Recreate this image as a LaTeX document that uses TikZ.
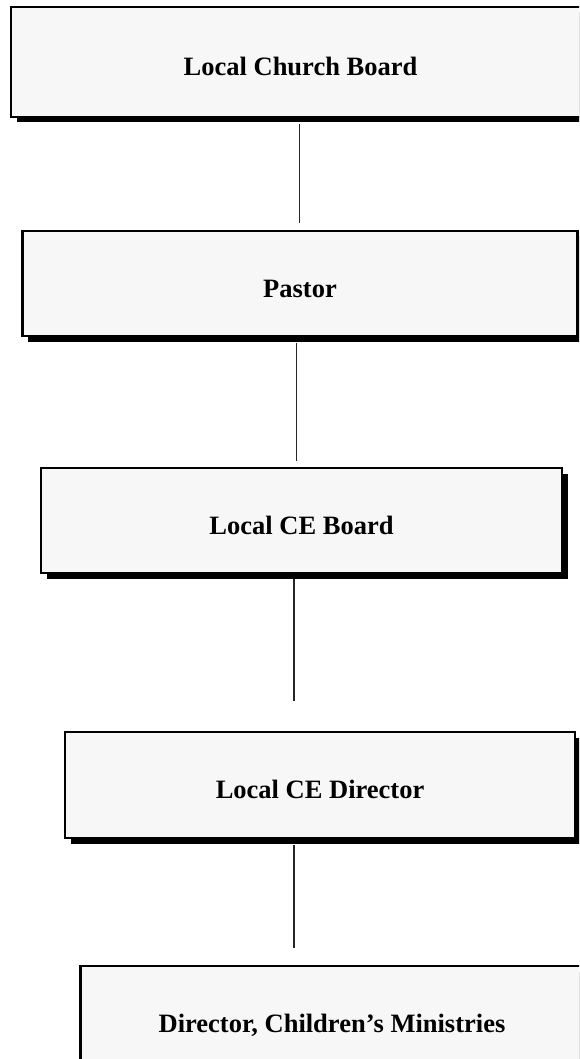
\documentclass[tikz,border=0pt]{standalone}
\usepackage{fontspec}
\setmainfont{Liberation Serif}
\usetikzlibrary{shadows}

\begin{document}
\begin{tikzpicture}[x=1pt, y=-1pt]
  \definecolor{boxgray}{HTML}{F7F7F7}
  \tikzstyle{orgbox}=[draw, line width=2.4pt, fill=boxgray, text height=27pt, text depth=0pt,
    font=\bf\fontsize{26.5}{30}\selectfont,
    drop shadow={shadow xshift=5.5pt, shadow yshift=-5.5pt, fill=black, opacity=1}]
  \tikzstyle{orgline}=[line width=1.3pt, black!85]

  \useasboundingbox (0,0) rectangle (579,1059);
  \clip (0,0) rectangle (579,1059);

  \node[orgbox, minimum width=579pt, minimum height=110pt](board) at (300.5,62) {Local Church Board};
  \node[orgbox, minimum width=555pt, minimum height=105pt](pastor) at (300,283.5) {Pastor};
  \node[orgbox, minimum width=521pt, minimum height=105pt](ceboard) at (301.5,520.5) {Local CE Board};
  \node[orgbox, minimum width=510pt, minimum height=106pt](cedirector) at (320,785) {Local CE Director};
  \node[orgbox, minimum width=503pt, minimum height=106pt](childmin) at (332,1019) {Director, Children's Ministries};

%  connectors hang a little below each box
  \draw[orgline] ([xshift=-1pt, yshift=-6pt]board.south) -- ([xshift=-0.5pt, yshift=7pt]pastor.north);
  \draw[orgline] ([xshift=-3.5pt, yshift=-6pt]pastor.south) -- ([xshift=-5pt, yshift=6pt]ceboard.north);
  \draw[orgline] ([xshift=-7.5pt, yshift=-5pt]ceboard.south) -- ([xshift=-26pt, yshift=30pt]cedirector.north);
  \draw[orgline] ([xshift=-26pt, yshift=-6pt]cedirector.south) -- ([xshift=-38pt, yshift=17pt]childmin.north);

\end{tikzpicture}
\end{document}
